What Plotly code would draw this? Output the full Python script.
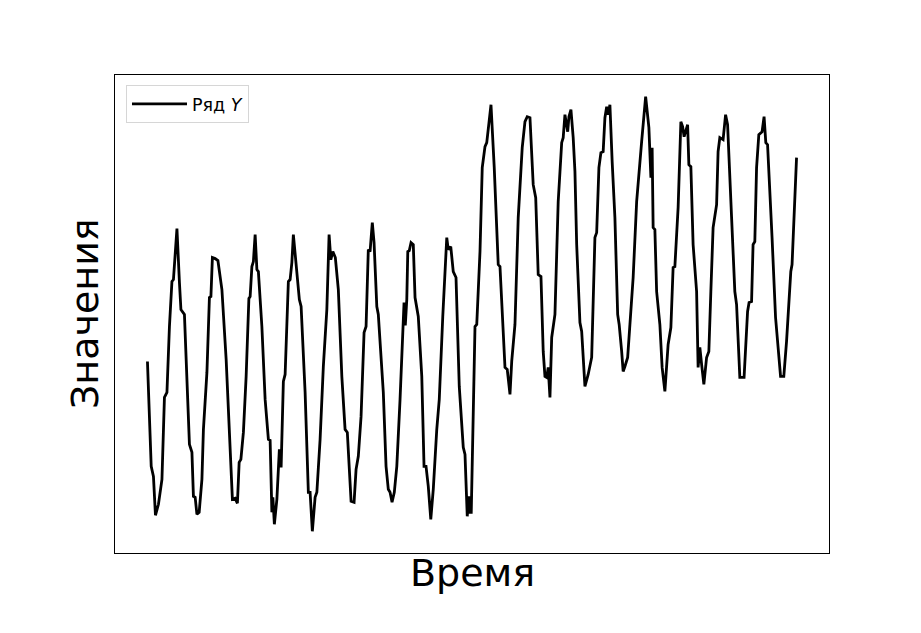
import plotly.graph_objects as go

# Time (arbitrary units) and values of series Y
time = [0.0, 1.5, 2.4, 3.2, 4.4, 5.8, 6.8, 7.8, 8.8, 9.8, 10.4, 11.8, 12.8, 13.4, 14.8, 15.8, 16.8, 17.8, 18.4, 19.1,
        19.8, 20.7, 21.8, 22.4, 23.8, 24.8, 25.4, 26.0, 27.1, 28.2, 29.8, 31.5, 32.8, 34.0, 35.1, 36.0, 36.7, 37.4, 38.4, 39.5,
        40.6, 41.1, 41.8, 42.4, 43.1, 43.8, 44.4, 45.8, 47.1, 48.4, 49.1, 49.8, 50.2, 50.8, 51.8, 52.8, 53.5, 54.4, 55.1, 56.4,
        57.1, 57.8, 58.4, 59.8, 60.8, 61.5, 63.1, 64.4, 65.1, 66.0, 67.1, 67.8, 69.1, 70.4, 71.8, 72.7, 73.4, 74.2, 75.2, 76.4,
        77.8, 79.1, 80.0, 81.5, 82.7, 83.5, 84.4, 85.5, 86.7, 87.5, 88.4, 89.1, 90.0, 90.7, 91.8, 92.4, 94.4, 95.5, 96.4, 97.1,
        97.9, 98.8, 99.8, 101.1, 102.2, 102.7, 103.2, 103.8, 104.2, 104.8, 105.5, 106.4, 107.1, 108.4, 109.8, 110.7, 111.5, 112.4, 113.4, 114.4,
        115.8, 116.8, 118.2, 119.1, 119.8, 120.4, 121.4, 122.4, 123.5, 124.8, 126.4, 127.1, 128.0, 128.6, 129.1, 129.6, 131.1, 131.8, 133.1, 134.0,
        135.1, 135.8, 137.5, 138.8, 140.4, 141.1, 142.0, 143.1, 144.0, 145.1, 145.8, 147.1, 148.4, 150.0, 151.1, 152.0, 153.1, 154.4, 155.4, 156.4,
        157.5, 158.4, 159.1, 159.8, 160.4, 161.1, 161.8, 163.1, 164.4, 165.8, 166.4, 167.1, 168.2, 168.7, 169.5, 170.4, 171.1, 171.8, 173.1, 173.8,
        175.1, 176.4, 177.8, 179.1, 179.8, 180.7, 181.5, 182.4, 183.1, 183.8, 184.4, 185.1, 186.0, 187.1, 188.2, 188.8, 189.8, 190.4, 191.1, 192.2,
        194.4, 195.8, 197.8, 199.4, 200.7, 201.1, 201.5, 202.0, 202.4, 203.1, 203.8, 205.1, 206.0, 207.1, 208.4, 209.5, 210.4, 211.1, 212.4, 213.5,
        214.2, 214.8, 215.8, 216.2, 216.7, 217.5, 218.4, 219.8, 220.4, 221.1, 221.8, 222.7, 223.8, 224.7, 225.5, 226.4, 227.8, 228.4, 229.1, 230.4,
        231.4, 232.2, 233.8, 235.1, 235.8, 237.1, 238.8, 240.2, 240.8, 241.8, 242.4, 243.1, 243.8, 244.7, 246.0, 246.8, 247.5, 248.2, 250.0, 251.4,
        253.4, 254.7, 255.8, 257.5, 258.0, 259.8]

values_y = [0.88, -0.17, -0.27, -0.66, -0.55, -0.30, 0.52, 0.57, 1.23, 1.68, 1.70, 2.21, 1.67, 1.40, 1.35, 0.73, 0.05, -0.03, -0.47, -0.48,
            -0.65, -0.63, -0.30, 0.20, 0.77, 1.52, 1.53, 1.92, 1.91, 1.89, 1.60, 0.90, 0.17, -0.50, -0.49, -0.54, -0.13, -0.10, 0.17, 0.73,
            1.51, 1.53, 1.83, 1.88, 2.15, 1.80, 1.78, 1.23, 0.50, 0.10, 0.09, -0.63, -0.48, -0.75, -0.50, 0.00, -0.18, 0.68, 0.75, 1.68,
            1.70, 1.87, 2.15, 1.77, 1.50, 1.43, 0.57, -0.43, -0.43, -0.82, -0.48, -0.43, 0.10, 0.83, 1.40, 2.15, 1.90, 1.98, 1.92, 1.60,
            0.73, 0.20, 0.17, -0.52, -0.53, -0.20, -0.07, 0.33, 1.17, 1.23, 2.00, 1.98, 2.27, 2.07, 1.43, 1.35, 0.57, -0.17, -0.40, -0.43,
            -0.53, -0.43, -0.17, 0.50, 1.10, 1.47, 1.24, 1.50, 1.98, 1.99, 2.07, 2.05, 1.52, 1.33, 0.73, -0.17, -0.17, -0.37, -0.70, -0.40,
            0.20, 0.50, 1.33, 1.83, 2.12, 2.00, 2.03, 1.78, 1.72, 0.63, 0.02, -0.05, -0.67, -0.47, -0.63, -0.63, 1.23, 1.25, 1.98, 2.82,
            3.03, 3.07, 3.45, 2.82, 1.85, 1.83, 1.32, 0.82, 0.80, 0.55, 0.88, 1.25, 2.32, 3.02, 3.28, 3.33, 3.32, 2.65, 2.52, 1.75,
            1.73, 0.98, 0.73, 0.72, 0.82, 0.52, 1.12, 1.35, 2.48, 3.07, 3.12, 3.35, 3.18, 3.33, 3.40, 3.12, 2.78, 2.05, 1.27, 1.18,
            0.63, 0.75, 0.92, 2.12, 2.17, 2.82, 2.97, 2.98, 3.32, 3.43, 3.35, 3.45, 2.88, 2.32, 1.35, 1.25, 0.98, 0.78, 0.83, 0.92,
            1.72, 2.48, 3.08, 3.53, 3.22, 3.02, 2.72, 3.02, 2.22, 2.20, 1.58, 1.25, 0.82, 0.58, 1.05, 1.22, 1.82, 1.83, 2.42, 3.28,
            3.23, 3.13, 3.23, 3.25, 2.85, 2.83, 2.05, 1.58, 0.82, 1.02, 0.85, 0.65, 0.92, 0.98, 1.58, 2.22, 2.45, 2.98, 3.12, 3.10,
            3.35, 3.25, 2.32, 1.58, 1.45, 0.72, 0.72, 1.38, 1.47, 1.48, 2.05, 2.08, 2.82, 3.15, 3.18, 3.33, 3.07, 3.05, 2.12, 1.32,
            0.73, 0.73, 1.08, 1.78, 1.85, 2.92]

series_name = "Ряд <i>Y</i>"
x_title = "Время"
y_title = "Значения"

# matplotlib-like 5% autoscale margins
xmin, xmax = min(time), max(time)
ymin, ymax = min(values_y), max(values_y)
xpad = 0.05 * (xmax - xmin)
ypad = 0.05 * (ymax - ymin)

fig = go.Figure()
fig.add_trace(go.Scatter(x=time, y=values_y, mode="lines", name=series_name,
                         line=dict(color="black", width=2.8), showlegend=True))

axis_common = dict(showgrid=False, zeroline=False, showticklabels=False, ticks="",
                   showline=True, linecolor="black", linewidth=1, mirror=True)
fig.update_layout(
    width=905, height=617,
    margin=dict(l=107, r=84, t=67, b=72),
    paper_bgcolor="white", plot_bgcolor="white",
    font=dict(family="DejaVu Sans", color="black"),
    xaxis=dict(range=[xmin - xpad, xmax + xpad], **axis_common),
    yaxis=dict(range=[ymin - ypad, ymax + ypad], **axis_common),
    showlegend=True,
    legend=dict(x=0.0154, y=0.979, xanchor="left", yanchor="top",
                bordercolor="#d6d6d6", borderwidth=1, bgcolor="rgba(255,255,255,0.8)",
                itemwidth=55,
                font=dict(size=17.5, family="DejaVu Sans")),
    annotations=[
        dict(text=x_title, xref="paper", yref="paper", x=0.5, y=0, yshift=4,
             xanchor="center", yanchor="top", showarrow=False,
             font=dict(size=38, family="DejaVu Sans")),
        dict(text=y_title, xref="paper", yref="paper", x=0, y=0.5, xshift=-6,
             xanchor="right", yanchor="middle", textangle=-90, showarrow=False,
             font=dict(size=38, family="DejaVu Sans")),
    ],
)

fig.write_html("out.html")
